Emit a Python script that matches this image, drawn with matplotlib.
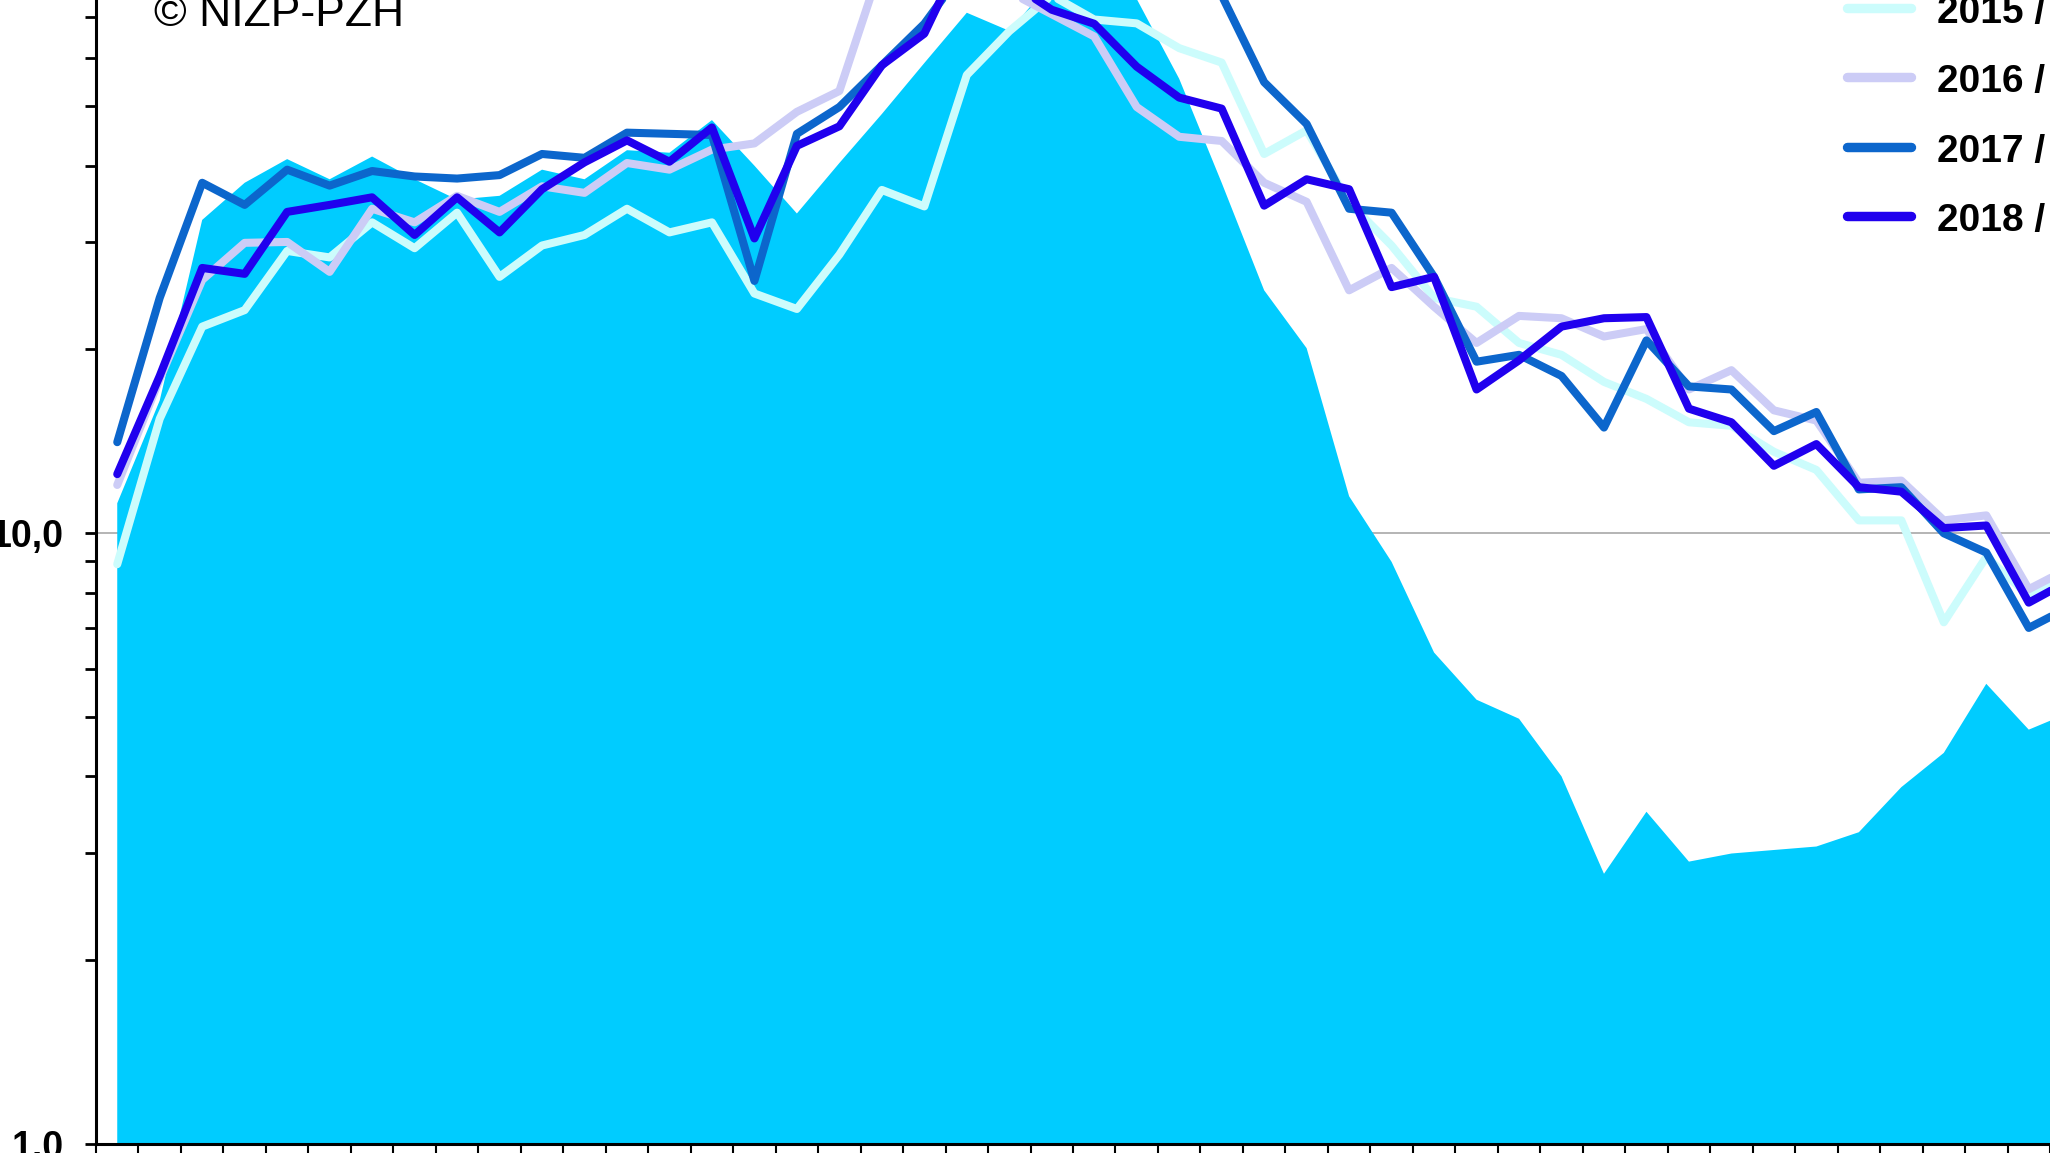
import numpy as np
import matplotlib
matplotlib.use('Agg')
import matplotlib.pyplot as plt
from matplotlib.lines import Line2D
from matplotlib.ticker import FixedLocator, FixedFormatter, NullFormatter

plt.rcParams['font.family'] = ['Liberation Sans', 'DejaVu Sans']

## Weekly incidence per 100 000 (season week index)
season_2015 = [8.9, 15.4, 21.8, 23.2, 29.0, 28.3, 32.3, 29.3, 33.5, 26.3,
               29.6, 30.8, 34.0, 31.1, 32.3, 24.7, 23.3, 28.6, 36.5, 34.3,
               56.3, 66.4, 76.0, 69.4, 68.4, 62.3, 59.0, 41.8, 45.7, 34.8,
               29.6, 24.3, 23.5, 20.5, 19.6, 17.7, 16.6, 15.2, 15.0, 13.6,
               12.7, 10.5, 10.5, 7.15, 9.15, 7.9, 8.6]
season_2016 = [12.0, 17.9, 26.0, 29.9, 30.0, 26.8, 34.0, 32.3, 35.7, 33.6,
               37.0, 36.1, 40.4, 39.4, 42.5, 43.5, 49.0, 53.0, 86.0, 100.0,
               105.0, 77.0, 70.8, 65.1, 49.9, 44.6, 43.9, 37.5, 34.9, 25.0,
               27.2, 23.5, 20.5, 22.7, 22.5, 21.0, 21.6, 17.2, 18.5, 15.9,
               15.3, 12.1, 12.2, 10.5, 10.7, 8.1, 8.8]
season_2017 = [14.1, 24.3, 37.5, 34.5, 39.4, 37.1, 39.2, 38.4, 38.1, 38.6,
               41.8, 41.2, 45.3, 45.1, 44.9, 25.9, 45.1, 49.9, 58.4, 68.3,
               85.0, 95.0, 100.0, 100.0, 95.0, 85.0, 76.0, 54.8, 46.8, 34.0,
               33.5, 26.3, 19.1, 19.6, 18.1, 14.9, 20.7, 17.4, 17.2, 14.7,
               15.8, 11.8, 11.9, 10.0, 9.3, 7.0, 7.6]
season_2018 = [12.5, 18.1, 27.2, 26.6, 33.6, 34.5, 35.5, 30.8, 35.5, 31.1,
               36.6, 40.5, 44.0, 40.6, 46.2, 30.4, 43.1, 46.4, 58.4, 65.8,
               92.0, 80.0, 72.0, 68.3, 58.1, 51.7, 49.6, 34.4, 38.0, 36.6,
               25.3, 26.3, 17.2, 19.2, 21.8, 22.5, 22.6, 16.0, 15.2, 12.9,
               14.0, 11.9, 11.7, 10.2, 10.3, 7.7, 8.4]
season_2019 = [11.2, 16.5, 32.6, 37.5, 41.0, 38.0, 41.4, 38.0, 35.2, 35.7,
               39.4, 38.0, 42.4, 42.0, 47.5, 40.0, 33.4, 40.4, 48.6, 58.9,
               71.2, 66.5, 80.0, 80.0, 75.0, 55.5, 37.5, 25.0, 20.1, 11.5,
               8.98, 6.38, 5.34, 4.97, 4.0, 2.77, 3.5, 2.9, 2.99, 3.03,
               3.07, 3.24, 3.84, 4.37, 5.67, 4.77, 5.1]

labels = ['2015 / 2016', '2016 / 2017', '2017 / 2018', '2018 / 2019']
colors = ['#ccfcfc', '#ccccf6', '#0c66cc', '#2000ee']
fill_color = '#00ccff'

W, H = 2050, 1153
fig = plt.figure(figsize=(W/100, H/100), dpi=100)
ax = fig.add_axes([96/W, 9/H, 1 - 96/W, 1144/H])

x = np.arange(len(season_2019))
ax.axhline(10, color='#a8a8a8', lw=1.2, zorder=0.5)
ax.fill_between(x, 0.1, season_2019, color=fill_color, lw=0, zorder=1)

lw = 5.8
for vals, c in zip([season_2015, season_2016, season_2017, season_2018], colors):
	ax.plot(x, vals, color=c, lw=lw, solid_joinstyle='round',
		solid_capstyle='round', zorder=2)

ax.set_yscale('log')
ax.set_ylim(1, 74.7)
ax.set_xlim(-0.5, 45.16)

ax.yaxis.set_major_locator(FixedLocator([1, 10]))
ax.yaxis.set_major_formatter(FixedFormatter(['1,0', '10,0']))
ax.yaxis.set_minor_locator(FixedLocator([2, 3, 4, 5, 6, 7, 8, 9,
	20, 30, 40, 50, 60, 70]))
ax.yaxis.set_minor_formatter(NullFormatter())
ax.tick_params(axis='y', which='both', direction='out', length=8,
	width=2.0, pad=15, labelsize=27)
for t in ax.get_yticklabels():
	t.set_fontweight('bold')

ax.set_xticks(np.arange(-0.5, 46, 1))
ax.set_xticklabels([])
ax.tick_params(axis='x', which='both', direction='out', length=8, width=1.5)

for s in ['top', 'right']:
	ax.spines[s].set_visible(False)
for s in ['left', 'bottom']:
	ax.spines[s].set_linewidth(2.2)

## Copyright note
fig.text(154/W, 1 - 26/H, '\u00a9 NIZP-PZH', fontsize=32,
	va='baseline', ha='left')

## Legend drawn by hand at top right
rows = [8, 77, 147, 216]
for lab, c, py in zip(labels, colors, rows):
	fig.add_artist(Line2D([1847/W, 1911/W], [1 - py/H, 1 - py/H],
		color=c, lw=lw + 1, solid_capstyle='round',
		transform=fig.transFigure))
	fig.text(1937/W, 1 - (py + 15)/H, lab, fontsize=28, fontweight='bold',
		va='baseline', ha='left')

fig.savefig('out.png', dpi=100)
